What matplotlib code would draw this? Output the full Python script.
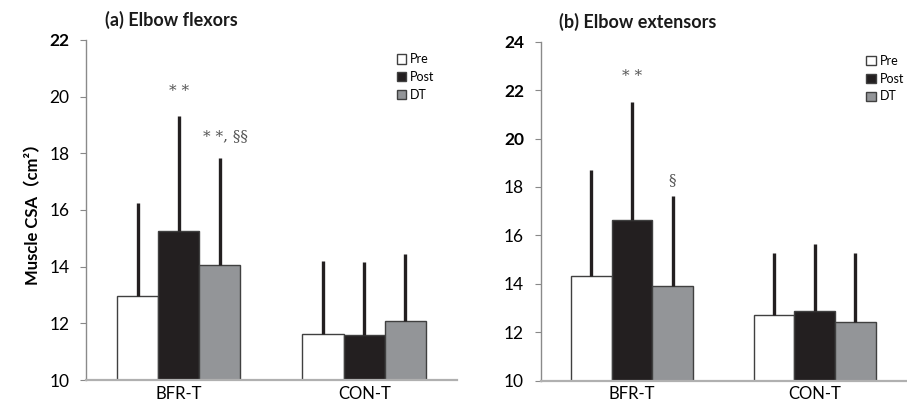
import matplotlib
matplotlib.use("Agg")
import matplotlib.pyplot as plt
import numpy as np

plt.rcParams['font.family'] = ['Lato', 'Noto Sans CJK JP', 'DejaVu Sans']

groups = ["BFR-T", "CON-T"]
series = ["Pre", "Post", "DT"]

flex_mean = {"Pre": [12.98, 11.62], "Post": [15.27, 11.59], "DT": [14.05, 12.08]}
flex_err_top = {"Pre": [16.26, 14.20], "Post": [19.32, 14.15], "DT": [17.84, 14.44]}

ext_mean = {"Pre": [14.33, 12.70], "Post": [16.64, 12.88], "DT": [13.91, 12.41]}
ext_err_top = {"Pre": [18.71, 15.28], "Post": [21.50, 15.65], "DT": [17.63, 15.28]}

colors = {"Pre": "#ffffff", "Post": "#231f20", "DT": "#939598"}

fig = plt.figure(figsize=(9.07, 4.05), dpi=100)
axL = fig.add_axes([0.0948, 0.0617, 0.409, 0.840])
axR = fig.add_axes([0.596, 0.060, 0.403, 0.837])

width = 0.222
x = np.arange(len(groups))


def draw(ax, means, tops, ylim, yticks, bold_ticks, title, title_x, legend_x):
    for i, s in enumerate(series):
        pos = x + (i - 1) * width
        m = np.array(means[s])
        t = np.array(tops[s])
        ax.bar(pos, m - ylim[0], width, bottom=ylim[0], color=colors[s],
               edgecolor="#404040", linewidth=1.0, label=s, zorder=2)
        ax.vlines(pos, m, t, color="#231f20", linewidth=2.4, zorder=3)
    ax.set_xlim(-0.5, 1.5)
    ax.set_ylim(*ylim)
    ax.set_yticks(yticks)
    ax.set_yticklabels([str(v) for v in yticks], fontsize=12.5)
    for lab, v in zip(ax.get_yticklabels(), yticks):
        if v in bold_ticks:
            lab.set_fontweight("bold")
    ax.set_xticks(x)
    ax.set_xticklabels(groups, fontsize=12)
    ax.tick_params(axis="x", length=0, pad=4)
    ax.tick_params(axis="y", direction="out", length=4, color="#888888", pad=8)
    for sp in ["top", "right"]:
        ax.spines[sp].set_visible(False)
    ax.spines["left"].set_color("#8a8a8a")
    ax.spines["left"].set_linewidth(1.0)
    ax.spines["bottom"].set_color("#b0b0b0")
    ax.spines["bottom"].set_linewidth(1.6)
    ax.text(title_x, 1.058, title, transform=ax.transAxes, fontsize=13,
            fontweight="bold", ha="left", va="center", color="#1a1a1a")
    ax.legend(loc="upper left", bbox_to_anchor=(legend_x, 0.975), frameon=False,
              fontsize=9, handlelength=0.75, handleheight=0.75,
              handletextpad=0.3, labelspacing=0.45, borderaxespad=0)


draw(axL, flex_mean, flex_err_top, (10, 22), [10, 12, 14, 16, 18, 20, 22], [22],
     "(a) Elbow flexors", 0.05, 0.825)
draw(axR, ext_mean, ext_err_top, (10, 24), [10, 12, 14, 16, 18, 20, 22, 24], [20, 22, 24],
     "(b) Elbow extensors", 0.05, 0.878)

axL.set_ylabel("Muscle CSA（cm²）", fontsize=12, fontweight="bold", labelpad=6)

ann = dict(fontsize=11, color="#555555", family="DejaVu Serif", ha="center", va="center")
axL.text(0, 20.2, "* *", **ann)
axL.text(0.25, 18.6, "* *, §§", **ann)
axR.text(0, 22.6, "* *", **ann)
axR.text(width, 18.3, "§", **ann)

fig.savefig("out.png", dpi=100)
